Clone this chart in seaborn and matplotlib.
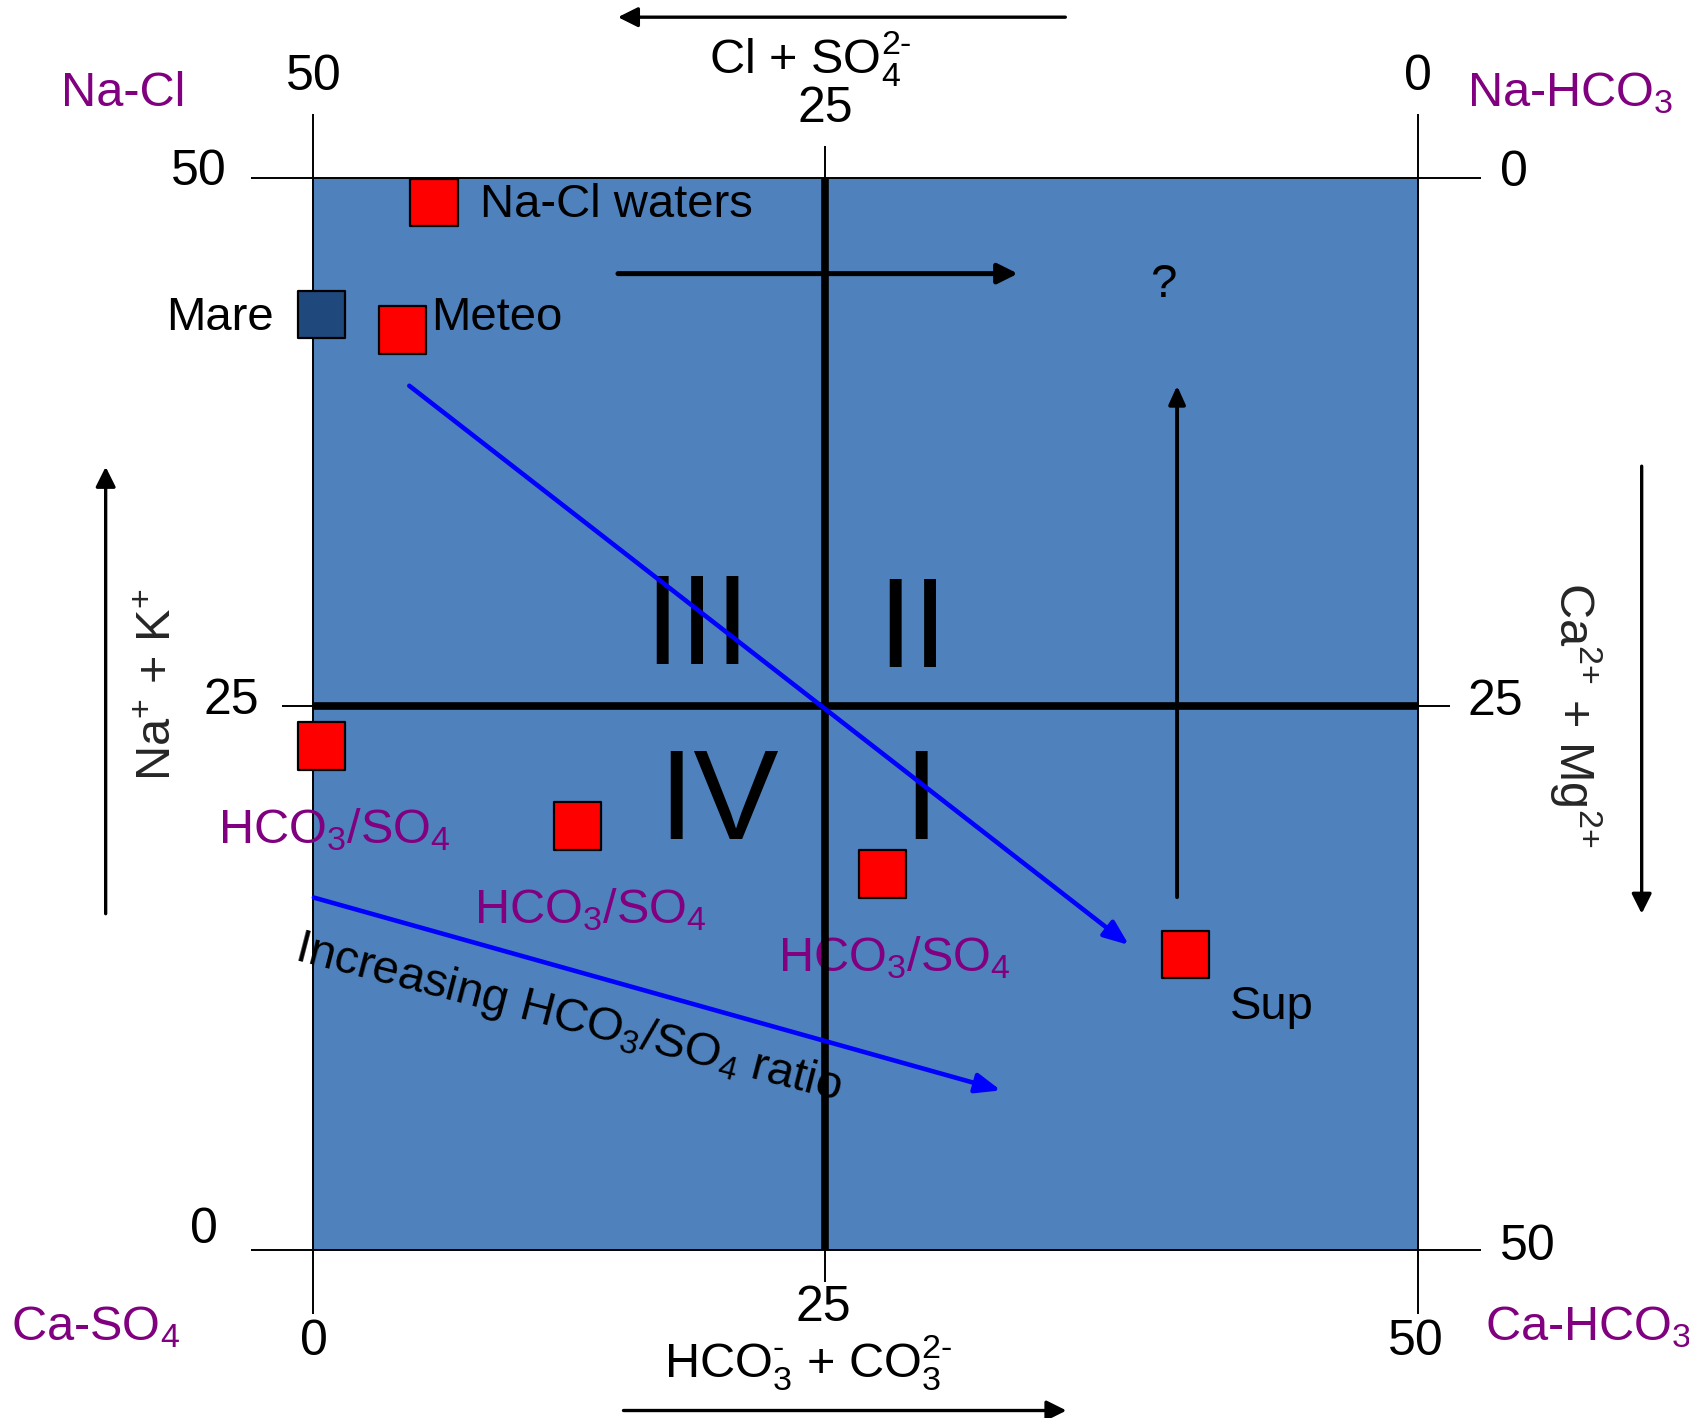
import matplotlib
matplotlib.use("Agg")
import matplotlib.pyplot as plt
from matplotlib.patches import Rectangle
import seaborn as sns
import pandas as pd

# ---------------- data (diagram units: 0..50 on each side) ----------------
sample_names = ["Na-Cl waters", "Mare", "Meteo", "HCO3/SO4 a", "HCO3/SO4 b", "HCO3/SO4 c", "Sup"]
sample_x = [5.46, 0.38, 4.02, 0.38, 11.97, 25.76, 39.50]
sample_y = [48.84, 43.64, 42.90, 23.50, 19.77, 17.53, 13.79]
sample_kind = ["sample", "sea", "sample", "sample", "sample", "sample", "sample"]

divider_x = 23.17          # position of the "25" line on the bottom/top scale
divider_y = 25.37          # position of the "25" line on the side scales

x_tick_pos = [0, divider_x, 50]
x_bottom_labels = ["0", "25", "50"]
x_top_labels = ["50", "25", "0"]
y_left_labels = ["0", "25", "50"]
y_right_labels = ["50", "25", "0"]

# trend arrows (start x, start y, end x, end y)
trend_arrows = [
    (4.34, 40.30, 36.93, 14.22),   # Meteo -> Sup
    (0.02, 16.43, 31.13, 7.44),    # increasing HCO3/SO4 ratio
]
black_arrows = [
    (13.79, 45.53, 31.90, 45.53),  # horizontal in quadrant III/II
    (39.11, 16.45, 39.11, 40.30),  # vertical toward "?"
]

# ---------------- style ----------------
sns.set_theme(style="white")
plt.rcParams["font.family"] = ["Liberation Sans", "DejaVu Sans"]
plt.rcParams["mathtext.fontset"] = "custom"
plt.rcParams["mathtext.rm"] = "Liberation Sans"
plt.rcParams["mathtext.it"] = "Liberation Sans:italic"
plt.rcParams["mathtext.bf"] = "Liberation Sans:bold"
plt.rcParams["mathtext.default"] = "regular"

PANEL = "#4F81BD"
PURPLE = "#800080"
FS_TICK = 36
FS = 34
FS_CORNER = 35

fig = plt.figure(figsize=(16.89, 14.18), dpi=100)
ax = fig.add_axes([0, 0, 1, 1])

# panel
ax.add_patch(Rectangle((0, 0), 50, 50, facecolor=PANEL, edgecolor="none", zorder=1))

# frame / scale lines
thin = dict(color="black", lw=1.4, zorder=2, solid_capstyle="butt")
ax.plot([-2.85, 52.89], [50, 50], **thin)
ax.plot([-2.85, 52.89], [0, 0], **thin)
ax.plot([0, 0], [-2.98, 52.96], **thin)
ax.plot([50, 50], [-2.98, 52.96], **thin)
ax.plot([divider_x, divider_x], [50, 51.48], **thin)
ax.plot([divider_x, divider_x], [-1.50, 0], **thin)
ax.plot([-1.41, 0], [divider_y, divider_y], **thin)
ax.plot([50, 51.46], [divider_y, divider_y], **thin)

# thick quadrant dividers
thick = dict(color="black", lw=5.5, zorder=3, solid_capstyle="butt")
ax.plot([divider_x, divider_x], [0, 50], **thick)
ax.plot([0, 50], [divider_y, divider_y], **thick)

def arrow(x0, y0, x1, y1, color, lw, hl, hw, z):
    ax.annotate("", xy=(x1, y1), xytext=(x0, y0),
                arrowprops=dict(arrowstyle=f"-|>,head_length={hl},head_width={hw}",
                                color=color, lw=lw, shrinkA=0, shrinkB=0,
                                mutation_scale=1),
                zorder=z, annotation_clip=False)

for (x0, y0, x1, y1) in trend_arrows:
    arrow(x0, y0, x1, y1, "#0000FF", 3.3, 15, 6, 5)
arrow(*black_arrows[0], "black", 3.6, 12, 6, 4)
arrow(*black_arrows[1], "black", 2.8, 11, 5, 4)

# outer axis-direction arrows
arrow(34.05, 57.49, 13.79, 57.49, "black", 2.4, 12, 6, 4)
arrow(14.04, -7.49, 34.10, -7.49, "black", 2.4, 12, 6, 4)
arrow(-9.41, 15.68, -9.41, 36.52, "black", 2.4, 12, 6, 4)
arrow(60.15, 36.55, 60.15, 15.68, "black", 2.4, 12, 6, 4)

# quadrant numerals
num = dict(fontsize=92, color="black", ha="center", va="baseline", zorder=3.5)
ax.text(17.38, 27.32, "III", **num)
ax.text(27.13, 27.19, "II", **num)
ax.text(18.33, 19.14, "IV", **num)
ax.text(27.51, 19.14, "I", **num)

# samples (squares)
df = pd.DataFrame({"x": sample_x, "y": sample_y, "kind": sample_kind, "name": sample_names})
sns.scatterplot(data=df, x="x", y="y", hue="kind",
                palette={"sample": "#FF0000", "sea": "#1F497D"},
                marker="s", s=1150, edgecolor="black", linewidth=1.6,
                legend=False, ax=ax, zorder=6)
ax.set_xlim(-14.195, 62.293)
ax.set_ylim(-7.839, 58.291)
ax.axis("off")

# tick labels
t = dict(fontsize=FS_TICK, color="black", va="baseline", ha="center", zorder=7)
ax.text(0.0, 54.09, x_top_labels[0], **t)
ax.text(divider_x, 52.61, x_top_labels[1], **t)
ax.text(50.04, 54.09, x_top_labels[2], **t)
ax.text(0.0, -4.92, x_bottom_labels[0], **t)
ax.text(23.09, -3.32, x_bottom_labels[1], **t)
ax.text(49.93, -4.92, x_bottom_labels[2], **t)
ax.text(-4.97, 0.32, y_left_labels[0], **t)
ax.text(-3.73, 25.01, y_left_labels[1], **t)
ax.text(-5.17, 49.66, y_left_labels[2], **t)
ax.text(55.00, -0.45, y_right_labels[0], **t)
ax.text(53.51, 24.93, y_right_labels[1], **t)
ax.text(54.37, 49.61, y_right_labels[2], **t)

# axis titles
tt = dict(fontsize=FS_CORNER, color="black", va="baseline", ha="center", zorder=7)
ax.text(22.49, 54.87, r"Cl + SO$_4^{2\text{-}}$", **tt)
ax.text(22.39, -5.95, r"HCO$_3^{\text{-}}$ + CO$_3^{2\text{-}}$", **tt)
ax.text(-6.46, 26.33, r"Na$^{\text{+}}$ + K$^{\text{+}}$", fontsize=FS_CORNER, rotation=90,
        rotation_mode="anchor", ha="center", va="baseline")
ax.text(56.44, 24.97, r"Ca$^{2\text{+}}$ + Mg$^{2\text{+}}$", fontsize=FS_CORNER, rotation=-90,
        rotation_mode="anchor", ha="center", va="baseline")

# corner water types
c = dict(fontsize=FS_CORNER, color=PURPLE, va="baseline", ha="center", zorder=7)
ax.text(-8.61, 53.35, "Na-Cl", **c)
ax.text(56.93, 53.35, r"Na-HCO$_3$", **c)
ax.text(-9.88, -4.22, r"Ca-SO$_4$", **c)
ax.text(57.71, -4.22, r"Ca-HCO$_3$", **c)

# point labels
lab = dict(fontsize=FS, color="black", va="baseline", zorder=7)
ax.text(7.53, 48.15, "Na-Cl waters", ha="left", **lab)
ax.text(-1.80, 42.89, "Mare", ha="right", **lab)
ax.text(5.32, 42.89, "Meteo", ha="left", **lab)
ax.text(43.40, 10.79, "Sup", ha="center", **lab)
ax.text(38.47, 44.45, "?", ha="center", **lab)

p = dict(fontsize=FS_CORNER, color=PURPLE, va="baseline", ha="center", zorder=2.5)
ax.text(0.95, 18.98, r"HCO$_3$/SO$_4$", **p)
ax.text(12.56, 15.25, r"HCO$_3$/SO$_4$", **p)
ax.text(26.29, 13.01, r"HCO$_3$/SO$_4$", **p)

ax.text(11.41, 10.25, r"Increasing HCO$_3$/SO$_4$ ratio", fontsize=34, color="black",
        rotation=-14.5, rotation_mode="anchor", ha="center", va="baseline", zorder=7)

fig.savefig("out.png", dpi=100, facecolor="white")
